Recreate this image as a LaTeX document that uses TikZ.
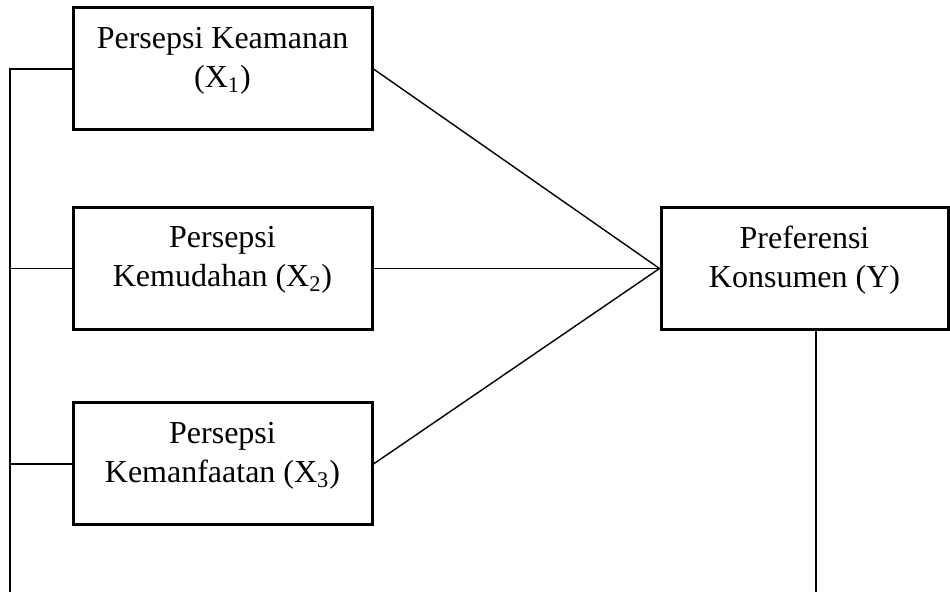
\documentclass[tikz,border=0pt]{standalone}
\usepackage{fontspec}
\setmainfont{Liberation Serif}
\usetikzlibrary{calc}

\begin{document}
\begin{tikzpicture}[x=0.5pt, y=-0.5pt,
    varbox/.style={draw, line width=1.5pt, minimum width=149.5pt, minimum height=61pt, inner sep=0pt,
        align=center, text depth=12pt, font=\fontsize{16}{19.5}\selectfont},
    link/.style={line width=0.7pt}]
    \useasboundingbox (0,0) rectangle (950,592);
    \node[varbox] (X1) at (222.5,69) {Persepsi Keamanan\\(X\textsubscript{1})};
    \node[varbox] (X2) at (222.5,268.5) {Persepsi\\Kemudahan (X\textsubscript{2})};
    \node[varbox] (X3) at (222.5,464) {Persepsi\\Kemanfaatan (X\textsubscript{3})};
    \node[varbox, minimum width=143.5pt] (Y) at (804.5,268.5) {Preferensi\\Konsumen (Y)};

    \foreach \x in {X1,X2,X3} {\draw[link] (\x.east) -- (Y.west);}

    % garis kiri
    \coordinate (LT) at (10,69); \coordinate (LB) at (10,592);
    \draw[link] (X1.west) -- (LT) -- (LB);
    \foreach \x in {X2,X3} {\draw[link] (\x.west) -- (\x.west -| LT);}

    % garis bawah Y
    \coordinate (YB) at (816,592);
    \draw[link] (Y.south -| YB) -- (YB);
\end{tikzpicture}
\end{document}
